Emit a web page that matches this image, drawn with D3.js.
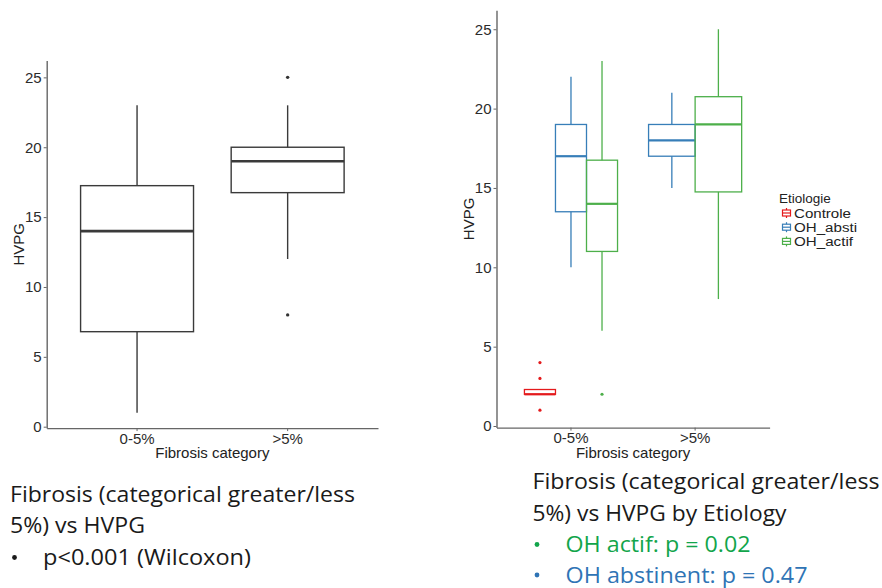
<!DOCTYPE html>
<html>
<head>
<meta charset="utf-8">
<script src="https://cdn.jsdelivr.net/npm/d3@7"></script>
<style>
  body { margin: 0; background: #fff; }
  svg { display: block; }
</style>
</head>
<body>
<svg id="chart" width="882" height="588"></svg>
<script>
const categories = ['0-5%', '>5%'];
const yTicks = [0, 5, 10, 15, 20, 25];

// left panel: one box per fibrosis category
const overallStats = [
  { cat: '0-5%', lower: 1, q1: 6.8, median: 14, q3: 17.25, upper: 23 },
  { cat: '>5%', lower: 12, q1: 16.75, median: 19, q3: 20, upper: 23 }
];
const overallOutliers = [
  { cat: '>5%', value: 25 },
  { cat: '>5%', value: 8 }
];

// right panel: boxes dodged by etiology
const etiologies = ['Controle', 'OH_absti', 'OH_actif'];
const etioColors = ['#e41a1c', '#377eb8', '#4daf4a'];
const groupsByCat = {
  '0-5%': ['Controle', 'OH_absti', 'OH_actif'],
  '>5%': ['OH_absti', 'OH_actif']
};
const etioStats = [
  { cat: '0-5%', etio: 'Controle', lower: 2, q1: 2, median: 2, q3: 2.3, upper: 2.3 },
  { cat: '0-5%', etio: 'OH_absti', lower: 10, q1: 13.5, median: 17, q3: 19, upper: 22 },
  { cat: '0-5%', etio: 'OH_actif', lower: 6, q1: 11, median: 14, q3: 16.75, upper: 23 },
  { cat: '>5%', etio: 'OH_absti', lower: 15, q1: 17, median: 18, q3: 19, upper: 21 },
  { cat: '>5%', etio: 'OH_actif', lower: 8, q1: 14.75, median: 19, q3: 20.75, upper: 25 }
];
const etioOutliers = [
  { cat: '0-5%', etio: 'Controle', value: 4 },
  { cat: '0-5%', etio: 'Controle', value: 3 },
  { cat: '0-5%', etio: 'Controle', value: 1 },
  { cat: '0-5%', etio: 'OH_actif', value: 2 }
];

const leftNotes = ['Fibrosis (categorical greater/less', '5%) vs HVPG'];
const leftBullets = ['p<0.001 (Wilcoxon)'];
const rightNotes = ['Fibrosis (categorical greater/less', '5%) vs HVPG by Etiology'];
const rightBullets = ['OH actif: p = 0.02', 'OH abstinent: p = 0.47'];

const svg = d3.select('#chart');
const color = d3.scaleOrdinal().domain(etiologies).range(etioColors);
const axisFont = "'Liberation Sans', Arial, sans-serif";

function drawAxes(g, x, y, panel) {
  g.append('g')
      .attr('transform', `translate(${panel.left},0)`)
      .call(d3.axisLeft(y).tickValues(yTicks).tickSize(3).tickPadding(2).tickSizeOuter(0))
      .call(a => a.select('.domain').attr('stroke', '#666').attr('stroke-width', 1.4))
      .call(a => a.selectAll('.tick line').attr('stroke', '#666'))
      .call(a => a.selectAll('.tick text')
        .attr('font-size', 15).attr('font-family', axisFont).attr('fill', '#2b2b2b'));

  g.append('g')
      .attr('transform', `translate(0,${panel.bottom})`)
      .call(d3.axisBottom(x).tickSize(3).tickPadding(2).tickSizeOuter(0))
      .call(a => a.select('.domain').attr('stroke', '#666').attr('stroke-width', 1.4))
      .call(a => a.selectAll('.tick line').attr('stroke', '#666'))
      .call(a => a.selectAll('.tick text')
        .attr('font-size', 15).attr('font-family', axisFont).attr('fill', '#2b2b2b'));

  g.append('text')
      .attr('x', (panel.left + panel.right) / 2)
      .attr('y', 458)
      .attr('text-anchor', 'middle')
      .attr('font-size', 15).attr('font-family', axisFont)
      .attr('fill', '#222')
      .text('Fibrosis category');

  g.append('text')
      .attr('transform', `translate(${panel.left - 23},${(panel.top + panel.bottom) / 2}) rotate(-90)`)
      .attr('text-anchor', 'middle')
      .attr('font-size', 15).attr('font-family', axisFont)
      .attr('fill', '#222')
      .text('HVPG');
}

function drawBox(g, d, cx, w, y, stroke, lw, medW) {
  const b = g.append('g');
  b.append('line')
      .attr('x1', cx).attr('x2', cx)
      .attr('y1', y(d.upper)).attr('y2', y(d.q3))
      .attr('stroke', stroke).attr('stroke-width', lw);
  b.append('line')
      .attr('x1', cx).attr('x2', cx)
      .attr('y1', y(d.q1)).attr('y2', y(d.lower))
      .attr('stroke', stroke).attr('stroke-width', lw);
  b.append('rect')
      .attr('x', cx - w / 2)
      .attr('y', y(d.q3))
      .attr('width', w)
      .attr('height', y(d.q1) - y(d.q3))
      .attr('fill', 'none')
      .attr('stroke', stroke).attr('stroke-width', lw);
  b.append('line')
      .attr('x1', cx - w / 2).attr('x2', cx + w / 2)
      .attr('y1', y(d.median)).attr('y2', y(d.median))
      .attr('stroke', stroke).attr('stroke-width', medW);
}

// ---- left panel
(function() {
  const panel = { left: 46.7, right: 378, top: 60.6, bottom: 428.1 };
  const g = svg.append('g');
  const x = d3.scaleBand().domain(categories)
    .range([panel.left, panel.right])
    .paddingInner(0).paddingOuter(0.1);
  const y = d3.scaleLinear().domain([-0.1, 26.2]).range([panel.bottom, panel.top]);

  drawAxes(g, x, y, panel);

  overallStats.forEach((d) => {
    const cx = x(d.cat) + x.bandwidth() / 2;
    drawBox(g, d, cx, x.bandwidth() * 0.75, y, '#3a3a3a', 1.4, 2.6);
  });

  g.selectAll('.outlier')
    .data(overallOutliers)
    .enter().append('circle')
      .attr('cx', d => x(d.cat) + x.bandwidth() / 2)
      .attr('cy', d => y(d.value))
      .attr('r', 1.7)
      .attr('fill', '#333');
}());

// ---- right panel
(function() {
  const panel = { left: 496.5, right: 769.6, top: 10.2, bottom: 427.6 };
  const g = svg.append('g');
  const x = d3.scaleBand().domain(categories)
    .range([panel.left, panel.right])
    .paddingInner(0).paddingOuter(0.1);
  const y = d3.scaleLinear().domain([-0.1, 26.2]).range([panel.bottom, panel.top]);

  drawAxes(g, x, y, panel);

  // dodge scale per category
  const dodge = {};
  categories.forEach((c) => {
    const cx = x(c) + x.bandwidth() / 2;
    const half = x.bandwidth() * 0.375;
    dodge[c] = d3.scaleBand().domain(groupsByCat[c]).range([cx - half, cx + half]);
  });

  etioStats.forEach((d) => {
    const s = dodge[d.cat];
    const cx = s(d.etio) + s.bandwidth() / 2;
    drawBox(g, d, cx, s.bandwidth(), y, color(d.etio), 1.3, 2.2);
  });

  g.selectAll('.outlier')
    .data(etioOutliers)
    .enter().append('circle')
      .attr('cx', d => dodge[d.cat](d.etio) + dodge[d.cat].bandwidth() / 2)
      .attr('cy', d => y(d.value))
      .attr('r', 1.6)
      .attr('fill', d => color(d.etio));

  // legend
  const legend = g.append('g').attr('transform', 'translate(779,0)');
  legend.append('text')
      .attr('x', 0).attr('y', 203)
      .attr('font-size', 13.5).attr('font-family', axisFont)
      .attr('fill', '#222')
      .text('Etiologie');

  const item = legend.selectAll('.legend')
    .data(etiologies)
    .enter().append('g')
      .attr('class', 'legend')
      .attr('transform', (d, i) => `translate(0,${213 + i * 14.2})`);

  item.append('line')
      .attr('x1', 7.5).attr('x2', 7.5).attr('y1', -5).attr('y2', 5)
      .attr('stroke', color).attr('stroke-width', 1.2);
  item.append('rect')
      .attr('x', 3.5).attr('y', -3).attr('width', 8).attr('height', 6)
      .attr('fill', '#fff')
      .attr('stroke', color).attr('stroke-width', 1.2);
  item.append('line')
      .attr('x1', 3.5).attr('x2', 11.5).attr('y1', 0).attr('y2', 0)
      .attr('stroke', color).attr('stroke-width', 1.2);
  item.append('text')
      .attr('x', 15).attr('y', 4.5)
      .attr('textLength', (d, i) => [57, 63, 59][i])
      .attr('lengthAdjust', 'spacingAndGlyphs')
      .attr('font-size', 12.3).attr('font-family', axisFont)
      .attr('fill', '#222')
      .text(d => d);
}());

// ---- captions under the panels
const noteFont = "22px 'Open Sans', 'Noto Sans', sans-serif";

function caption(x0, baselines, lines, widths, bullets, bulletWidths, bulletColors) {
  const g = svg.append('g');
  lines.forEach((t, i) => {
    g.append('text')
        .attr('x', x0).attr('y', baselines[i])
        .attr('textLength', widths[i])
        .attr('lengthAdjust', 'spacingAndGlyphs')
        .style('font', noteFont)
        .attr('fill', '#1a1a1a')
        .text(t);
  });
  bullets.forEach((t, i) => {
    const yb = baselines[lines.length + i];
    g.append('circle')
        .attr('cx', x0 + 4.5).attr('cy', yb - 7.5).attr('r', 2.4)
        .attr('fill', bulletColors[i]);
    g.append('text')
        .attr('x', x0 + 33).attr('y', yb)
        .attr('textLength', bulletWidths[i])
        .attr('lengthAdjust', 'spacingAndGlyphs')
        .style('font', noteFont)
        .attr('fill', bulletColors[i])
        .text(t);
  });
}

caption(10, [502, 533, 565], leftNotes, [345, 135], leftBullets, [208], ['#1a1a1a']);
caption(532.5, [489, 520.5, 552, 582.5], rightNotes, [347, 254], rightBullets, [185, 242],
  ['#12a54b', '#2f74b5']);
</script>
</body>
</html>
